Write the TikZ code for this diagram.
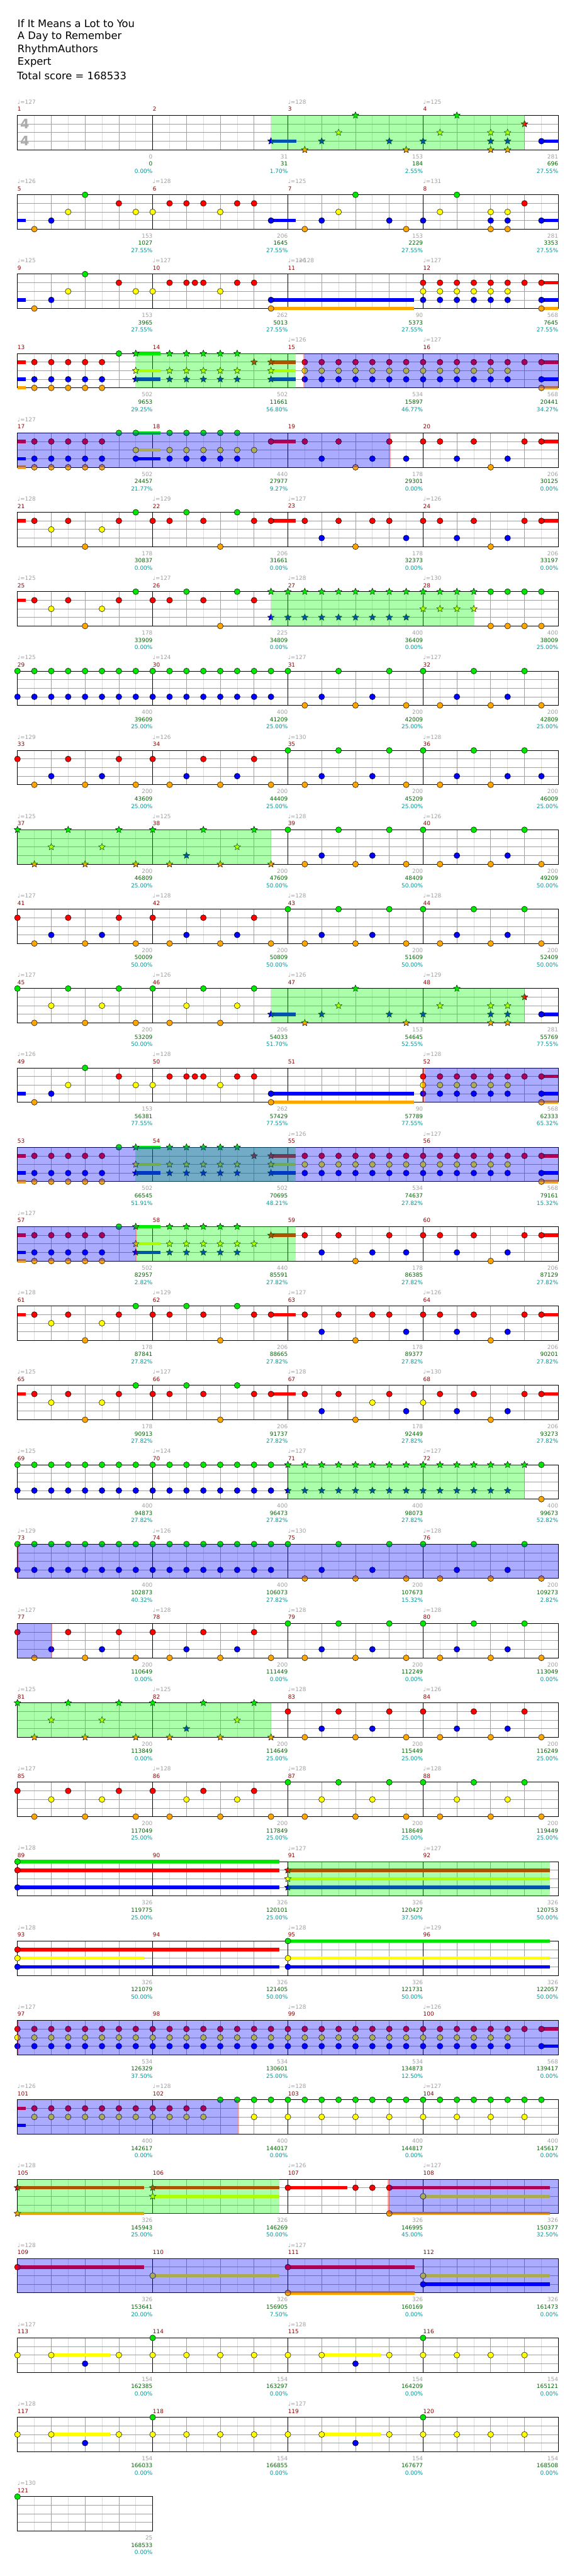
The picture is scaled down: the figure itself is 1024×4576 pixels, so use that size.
\documentclass[tikz,border=0pt]{standalone}
\usepackage{fontspec}
\setmainfont{DejaVu Sans}
\usetikzlibrary{shapes.geometric}
\definecolor{lane0}{RGB}{0,230,0}
\definecolor{lane1}{RGB}{255,0,0}
\definecolor{lane2}{RGB}{255,255,0}
\definecolor{lane3}{RGB}{0,0,255}
\definecolor{lane4}{RGB}{255,165,0}
\definecolor{gridminc}{RGB}{220,220,220}
\definecolor{gridmajc}{RGB}{160,160,160}
\definecolor{mnumred}{RGB}{139,0,0}
\definecolor{labgray}{RGB}{160,160,160}
\definecolor{scoregreen}{RGB}{0,100,0}
\definecolor{pctcyan}{RGB}{0,150,150}

% one row of measures: grid, bar lines, measure numbers
\newcommand{\staff}[2]{%
  \pgfmathtruncatemacro{\nEighths}{8*#2}%
  \foreach \ee in {1,...,\nEighths}{%
    \pgfmathtruncatemacro{\parity}{mod(\ee,2)}%
    \ifnum\parity=1 \draw[gridmin] (\ee,0) -- (\ee,4);\else\draw[gridmaj] (\ee,0) -- (\ee,4);\fi
  }%
  \foreach \lineidx in {1,2,3}{\draw[gridmaj] (0,\lineidx) -- (\nEighths,\lineidx);}%
  \foreach \mm in {1,...,#2}{%
    \draw[barline] (8*\mm,0) -- (8*\mm,4);
    \pgfmathtruncatemacro{\mnumber}{4*#1+\mm}%
    \node[mnum] at (8*\mm-8,-0.72) {\mnumber};
  }%
  \draw[barline] (0,0) rectangle (\nEighths,4);
}
\newcommand{\nt}[2]{\filldraw[fill=lane#2, draw=black, line width=0.4pt] (#1,#2) circle[radius=1.3mm];}
\newcommand{\notes}[2]{\foreach \p in {#2}{\nt{\p}{#1}}}
\newcommand{\stars}[2]{\foreach \p in {#2}{\node[spstar, fill=lane#1] at (\p,#1) {};}}
\newcommand{\sus}[3]{\fill[lane#1] (#2,{#1-0.2}) rectangle (#3,{#1+0.2});}
\newcommand{\spzone}[2]{\fill[green, opacity=0.33] (#1,0) rectangle (#2,4);}
\newcommand{\actzone}[2]{\fill[blue, opacity=0.33] (#1,0) rectangle (#2,4);}
\newcommand{\actwin}[2]{\fill[red, opacity=0.35] (#1,0) rectangle (#2,4);}
\newcommand{\tempo}[2]{\node[tempotxt] at (#1,-1.57) {♩=#2};}
\newcommand{\mscore}[4]{%
  \node[gno] at (8*#1,4.79) {#2};
  \node[sno] at (8*#1,5.64) {#3};
  \node[pno] at (8*#1,6.49) {#4\%};}

\begin{document}
\begin{tikzpicture}[x=0.025cm, y=-0.025cm,
  row/.style={shift={(31,{205+141*#1})}, x=0.75cm, y=-0.38125cm},
  gridmin/.style={draw=gridminc, line width=0.6pt},
  gridmaj/.style={draw=gridmajc, line width=0.6pt},
  barline/.style={draw=black, line width=0.7pt},
  spstar/.style={star, star points=5, star point ratio=2.2, minimum size=3.1mm, inner sep=0pt, draw=black, line width=0.4pt},
  smalltxt/.style={inner sep=0pt, font=\fontsize{7.1}{8}\selectfont},
  mnum/.style={smalltxt, anchor=west, text=mnumred},
  tempotxt/.style={smalltxt, anchor=west, text=labgray},
  gno/.style={smalltxt, anchor=east, text=labgray},
  sno/.style={smalltxt, anchor=east, text=scoregreen},
  pno/.style={smalltxt, anchor=east, text=pctcyan},
  tsig/.style={inner sep=0pt, text=gray!65, font=\bfseries\fontsize{16.5}{17}\selectfont},
  headtxt/.style={anchor=west, inner sep=0pt, font=\fontsize{13}{15}\selectfont}]
  \fill[white] (0,0) rectangle (1024,4576);
  \useasboundingbox (0,0) rectangle (1024,4576);

  % header
  \node[headtxt] (song) at (31,42) {If It Means a Lot to You};
  \node[headtxt] (artist) at (31,65) {A Day to Remember};
  \node[headtxt] (charter) at (31,88) {RhythmAuthors};
  \node[headtxt] (diff) at (31,111) {Expert};
  \node[headtxt] (total) at (30,134) {Total score = 168533};

  % measures 1-4
  \begin{scope}[row=0]
    \staff{0}{4}
    \node[tsig] (tsigtop) at (0.43,0.98) {4};
    \node[tsig] (tsigbot) at (0.43,2.95) {4};
    \sus{3}{15}{16.5} \sus{3}{31}{32}
    \stars{3}{15,18,22,24,28,29}
    \stars{4}{17,23,28,29}
    \stars{2}{19,25,28,29}
    \stars{0}{20,26}
    \stars{1}{30}
    \notes{3}{31}
    \spzone{15}{30}
    \tempo{0}{127} \tempo{16}{128} \tempo{24}{125}
    \mscore{1}{0}{0}{0.00} \mscore{2}{31}{31}{1.70} \mscore{3}{153}{184}{2.55} \mscore{4}{281}{696}{27.55}
  \end{scope}

  % measures 5-8
  \begin{scope}[row=1]
    \staff{1}{4}
    \sus{3}{0}{0.48} \sus{3}{15}{16.46} \sus{3}{31}{32}
    \notes{4}{1,17,23,28,29}
    \notes{3}{2,15,18,22,24,28,29,31}
    \notes{2}{3,7,8,12,19,25,28,29}
    \notes{0}{4,20,26}
    \notes{1}{6,9,10,11,13,14,30}
    \tempo{0}{126} \tempo{8}{128} \tempo{16}{125} \tempo{24}{131}
    \mscore{1}{153}{1027}{27.55} \mscore{2}{206}{1645}{27.55} \mscore{3}{153}{2229}{27.55} \mscore{4}{281}{3353}{27.55}
  \end{scope}

  % measures 9-12
  \begin{scope}[row=2]
    \staff{2}{4}
    \sus{3}{0}{0.48} \sus{3}{15}{23.46} \sus{4}{15}{23.46}
    \sus{1}{31}{32} \sus{3}{31}{32} \sus{4}{31}{32}
    \notes{4}{1,15,31}
    \notes{3}{2,15,24,25,26,27,28,29,31}
    \notes{2}{3,7,8,12,24,25,26,27,28,29}
    \notes{0}{4}
    \notes{1}{6,9,10,10.5,11,13,14,24,25,26,27,28,29,30,31}
    \tempo{0}{125} \tempo{8}{127} \tempo{16}{126} \tempo{16.47}{128} \tempo{24}{127}
    \mscore{1}{153}{3965}{27.55} \mscore{2}{262}{5013}{27.55} \mscore{3}{90}{5373}{27.55} \mscore{4}{568}{7645}{27.55}
  \end{scope}

  % measures 13-16
  \begin{scope}[row=3]
    \staff{3}{4}
    \sus{1}{0}{0.48} \sus{3}{0}{0.48} \sus{4}{0}{0.48}
    \notes{1}{1,2,3,4,5} \notes{3}{1,2,3,4,5} \notes{4}{1,2,3,4,5}
    \notes{0}{6}
    \sus{0}{7}{8.46} \sus{2}{7}{8.46} \sus{3}{7}{8.46}
    \sus{1}{15}{16.46} \sus{2}{15}{16.46} \sus{3}{15}{16.46}
    \stars{0}{7,9,10,11,12,13}
    \stars{2}{7,9,10,11,12,13,15}
    \stars{3}{7,9,10,11,12,13,15}
    \stars{1}{14,15}
    \sus{1}{31}{32} \sus{3}{31}{32} \sus{4}{31}{32}
    \notes{1}{17,...,31} \notes{2}{17,...,29} \notes{3}{17,...,29}
    \notes{3}{31} \notes{4}{31}
    \spzone{7}{16.46} \actzone{17}{32} \actwin{16.93}{17}
    \tempo{16}{126} \tempo{24}{127}
    \mscore{1}{502}{9653}{29.25} \mscore{2}{502}{11661}{56.80} \mscore{3}{534}{15897}{46.77} \mscore{4}{568}{20441}{34.27}
  \end{scope}

  % measures 17-20
  \begin{scope}[row=4]
    \staff{4}{4}
    \sus{1}{0}{0.48} \sus{3}{0}{0.48} \sus{4}{0}{0.48}
    \sus{0}{7}{8.46} \sus{2}{7}{8.46} \sus{3}{7}{8.46}
    \sus{1}{15}{16.46} \sus{1}{31}{32}
    \notes{1}{1,2,3,4,5,15,17,19,22,24,25,27,30,31}
    \notes{3}{1,2,3,4,5,7,9,10,11,12,13,18,21,23,26,29}
    \notes{4}{1,2,3,4,5,20,28}
    \notes{0}{6,7,9,10,11,12,13}
    \notes{2}{7,9,10,11,12,13,14}
    \actzone{0}{22} \actwin{22}{22.07}
    \tempo{0}{127}
    \mscore{1}{502}{24457}{21.77} \mscore{2}{440}{27977}{9.27} \mscore{3}{178}{29301}{0.00} \mscore{4}{206}{30125}{0.00}
  \end{scope}

  % measures 21-24
  \begin{scope}[row=5]
    \staff{5}{4}
    \sus{1}{0}{0.48} \sus{1}{15}{16.46} \sus{1}{31}{32}
    \notes{1}{1,3,6,8,9,11,14,15,17,19,21,22,24,25,27,30,31}
    \notes{2}{2,5} \notes{4}{4,12,20,28} \notes{0}{7,10,13} \notes{3}{18,23,26,29}
    \tempo{0}{128} \tempo{8}{129} \tempo{16}{127} \tempo{24}{126}
    \mscore{1}{178}{30837}{0.00} \mscore{2}{206}{31661}{0.00} \mscore{3}{178}{32373}{0.00} \mscore{4}{206}{33197}{0.00}
  \end{scope}

  % measures 25-28
  \begin{scope}[row=6]
    \staff{6}{4}
    \sus{1}{0}{0.48}
    \notes{1}{1,3,6,8,9,11,14} \notes{2}{2,5} \notes{4}{4,12} \notes{0}{7,10,13}
    \stars{0}{15,...,27} \stars{3}{15,...,23} \stars{2}{24,25,26,27}
    \notes{0}{28,29,30,31} \notes{4}{28,29,30,31}
    \spzone{15}{27}
    \tempo{0}{125} \tempo{8}{127} \tempo{16}{128} \tempo{24}{130}
    \mscore{1}{178}{33909}{0.00} \mscore{2}{225}{34809}{0.00} \mscore{3}{400}{36409}{0.00} \mscore{4}{400}{38009}{25.00}
  \end{scope}

  % measures 29-32
  \begin{scope}[row=7]
    \staff{7}{4}
    \notes{0}{0,...,16} \notes{0}{19,22,24,27,30}
    \notes{3}{0,...,15} \notes{3}{18,21,26,29}
    \notes{4}{17,20,23,25,28,31}
    \tempo{0}{125} \tempo{8}{124} \tempo{16}{127} \tempo{24}{127}
    \mscore{1}{400}{39609}{25.00} \mscore{2}{400}{41209}{25.00} \mscore{3}{200}{42009}{25.00} \mscore{4}{200}{42809}{25.00}
  \end{scope}

  % measures 33-36
  \begin{scope}[row=8]
    \staff{8}{4}
    \notes{1}{0,3,6,8,11,14} \notes{4}{1,4,7,9,12,15,17,20,23,25,28}
    \notes{3}{2,5,10,13,18,21,26,29,31} \notes{0}{16,19,22,24,27,30}
    \tempo{0}{129} \tempo{8}{126} \tempo{16}{130} \tempo{24}{128}
    \mscore{1}{200}{43609}{25.00} \mscore{2}{200}{44409}{25.00} \mscore{3}{200}{45209}{25.00} \mscore{4}{200}{46009}{25.00}
  \end{scope}

  % measures 37-40
  \begin{scope}[row=9]
    \staff{9}{4}
    \stars{0}{0,3,6,8,11,14} \stars{4}{1,4,7,9,12,15} \stars{2}{2,5,13} \stars{3}{10}
    \notes{0}{16,19,22,24,27,30} \notes{4}{17,20,23,25,28,31} \notes{3}{18,21,26,29}
    \spzone{0}{15}
    \tempo{0}{125} \tempo{8}{125} \tempo{16}{128} \tempo{24}{126}
    \mscore{1}{200}{46809}{25.00} \mscore{2}{200}{47609}{50.00} \mscore{3}{200}{48409}{50.00} \mscore{4}{200}{49209}{50.00}
  \end{scope}

  % measures 41-44
  \begin{scope}[row=10]
    \staff{10}{4}
    \notes{1}{0,3,6,8,11,14} \notes{4}{1,4,7,9,12,15,17,20,23,25,28,31}
    \notes{3}{2,5,10,13,18,21,26,29} \notes{0}{16,19,22,24,27,30}
    \tempo{0}{127} \tempo{8}{128} \tempo{16}{128} \tempo{24}{128}
    \mscore{1}{200}{50009}{50.00} \mscore{2}{200}{50809}{50.00} \mscore{3}{200}{51609}{50.00} \mscore{4}{200}{52409}{50.00}
  \end{scope}

  % measures 45-48
  \begin{scope}[row=11]
    \staff{11}{4}
    \notes{0}{0,3,6,8,11,14} \notes{4}{1,4,7,9,12} \notes{2}{2,5,10,13}
    \sus{3}{15}{16.46} \sus{3}{31}{32}
    \stars{3}{15,18,22,24,28,29} \stars{4}{17,23,28,29} \stars{2}{19,25,28,29}
    \stars{0}{20,26} \stars{1}{30}
    \notes{3}{31}
    \spzone{15}{30}
    \tempo{0}{127} \tempo{8}{126} \tempo{16}{126} \tempo{24}{129}
    \mscore{1}{200}{53209}{50.00} \mscore{2}{206}{54033}{51.70} \mscore{3}{153}{54645}{52.55} \mscore{4}{281}{55769}{77.55}
  \end{scope}

  % measures 49-52
  \begin{scope}[row=12]
    \staff{12}{4}
    \sus{3}{0}{0.48} \sus{3}{15}{23.46} \sus{4}{15}{23.46}
    \sus{1}{31}{32} \sus{3}{31}{32} \sus{4}{31}{32}
    \notes{4}{1,15,31}
    \notes{3}{2,15,24,25,26,27,28,29,31}
    \notes{2}{3,7,8,12,24,25,26,27,28,29}
    \notes{0}{4}
    \notes{1}{6,9,10,10.5,11,13,14,24,25,26,27,28,29,30,31}
    \actzone{24.11}{32} \actwin{23.96}{24.11}
    \tempo{0}{126} \tempo{8}{128} \tempo{24}{128}
    \mscore{1}{153}{56381}{77.55} \mscore{2}{262}{57429}{77.55} \mscore{3}{90}{57789}{77.55} \mscore{4}{568}{62333}{65.32}
  \end{scope}

  % measures 53-56
  \begin{scope}[row=13]
    \staff{13}{4}
    \sus{1}{0}{0.48} \sus{3}{0}{0.48} \sus{4}{0}{0.48}
    \notes{1}{1,2,3,4,5} \notes{3}{1,2,3,4,5} \notes{4}{1,2,3,4,5}
    \notes{0}{6}
    \sus{0}{7}{8.46} \sus{2}{7}{8.46} \sus{3}{7}{8.46}
    \sus{1}{15}{16.46} \sus{2}{15}{16.46} \sus{3}{15}{16.46}
    \stars{0}{7,9,10,11,12,13}
    \stars{2}{7,9,10,11,12,13,15}
    \stars{3}{7,9,10,11,12,13,15}
    \stars{1}{14,15}
    \sus{1}{31}{32} \sus{3}{31}{32} \sus{4}{31}{32}
    \notes{1}{17,...,31} \notes{2}{17,...,29} \notes{3}{17,...,29}
    \notes{3}{31} \notes{4}{31}
    \spzone{7}{16.46} \actzone{0}{32}
    \tempo{16}{126} \tempo{24}{127}
    \mscore{1}{502}{66545}{51.91} \mscore{2}{502}{70695}{48.21} \mscore{3}{534}{74637}{27.82} \mscore{4}{568}{79161}{15.32}
  \end{scope}

  % measures 57-60
  \begin{scope}[row=14]
    \staff{14}{4}
    \sus{1}{0}{0.48} \sus{3}{0}{0.48} \sus{4}{0}{0.48}
    \sus{0}{7}{8.46} \sus{2}{7}{8.46} \sus{3}{7}{8.46}
    \sus{1}{15}{16.46} \sus{1}{31}{32}
    \notes{1}{1,2,3,4,5,17,19,22,24,25,27,30,31}
    \notes{3}{1,2,3,4,5,18,21,23,26,29}
    \notes{4}{1,2,3,4,5,20,28}
    \notes{0}{6}
    \stars{0}{7,9,10,11,12,13} \stars{2}{7,9,10,11,12,13,14}
    \stars{3}{7,9,10,11,12,13} \stars{1}{15}
    \actzone{0}{7} \actwin{7}{7.07} \spzone{7.07}{16.46}
    \tempo{0}{127}
    \mscore{1}{502}{82957}{2.82} \mscore{2}{440}{85591}{27.82} \mscore{3}{178}{86385}{27.82} \mscore{4}{206}{87129}{27.82}
  \end{scope}

  % measures 61-64
  \begin{scope}[row=15]
    \staff{15}{4}
    \sus{1}{0}{0.48} \sus{1}{15}{16.46} \sus{1}{31}{32}
    \notes{1}{1,3,6,8,9,11,14,15,17,19,21,22,24,25,27,30,31}
    \notes{2}{2,5} \notes{4}{4,12,20,28} \notes{0}{7,10,13} \notes{3}{18,23,26,29}
    \tempo{0}{128} \tempo{8}{129} \tempo{16}{127} \tempo{24}{126}
    \mscore{1}{178}{87841}{27.82} \mscore{2}{206}{88665}{27.82} \mscore{3}{178}{89377}{27.82} \mscore{4}{206}{90201}{27.82}
  \end{scope}

  % measures 65-68
  \begin{scope}[row=16]
    \staff{16}{4}
    \sus{1}{0}{0.48} \sus{1}{15}{16.46} \sus{1}{31}{32}
    \notes{1}{1,3,6,8,9,11,14,15,17,19,22,25,27,30,31}
    \notes{2}{2,5,21,24} \notes{4}{4,12,20,28} \notes{0}{7,10,13} \notes{3}{18,23,26,29}
    \tempo{0}{125} \tempo{8}{127} \tempo{16}{128} \tempo{24}{130}
    \mscore{1}{178}{90913}{27.82} \mscore{2}{206}{91737}{27.82} \mscore{3}{178}{92449}{27.82} \mscore{4}{206}{93273}{27.82}
  \end{scope}

  % measures 69-72
  \begin{scope}[row=17]
    \staff{17}{4}
    \notes{0}{0,...,15} \notes{3}{0,...,15}
    \stars{0}{16,...,30} \stars{3}{16,...,29}
    \notes{0}{31} \notes{4}{31}
    \spzone{16}{30}
    \tempo{0}{125} \tempo{8}{124} \tempo{16}{127} \tempo{24}{127}
    \mscore{1}{400}{94873}{27.82} \mscore{2}{400}{96473}{27.82} \mscore{3}{400}{98073}{27.82} \mscore{4}{400}{99673}{52.82}
  \end{scope}

  % measures 73-76
  \begin{scope}[row=18]
    \staff{18}{4}
    \notes{0}{0,...,16} \notes{0}{19,22,24,27,30}
    \notes{3}{0,...,15} \notes{3}{18,21,26,29}
    \notes{4}{17,20,23,25,28,31}
    \actzone{0}{32} \actwin{0}{0.07}
    \tempo{0}{129} \tempo{8}{126} \tempo{16}{130} \tempo{24}{128}
    \mscore{1}{400}{102873}{40.32} \mscore{2}{400}{106073}{27.82} \mscore{3}{200}{107673}{15.32} \mscore{4}{200}{109273}{2.82}
  \end{scope}

  % measures 77-80
  \begin{scope}[row=19]
    \staff{19}{4}
    \notes{1}{0,3,6,8,11,14} \notes{4}{1,4,7,9,12,15,17,20,23,25,28,31}
    \notes{3}{2,5,10,13,18,21,26,29} \notes{0}{16,19,22,24,27,30}
    \actzone{0}{2} \actwin{2}{2.07}
    \tempo{0}{127} \tempo{8}{128} \tempo{16}{128} \tempo{24}{128}
    \mscore{1}{200}{110649}{0.00} \mscore{2}{200}{111449}{0.00} \mscore{3}{200}{112249}{0.00} \mscore{4}{200}{113049}{0.00}
  \end{scope}

  % measures 81-84
  \begin{scope}[row=20]
    \staff{20}{4}
    \stars{0}{0,3,6,8,11,14} \stars{4}{1,4,7,9,12,15} \stars{2}{2,5,13} \stars{3}{10}
    \notes{1}{16,19,22,24,27,30} \notes{4}{17,20,23,25,28,31} \notes{3}{18,21,26,29}
    \spzone{0}{15}
    \tempo{0}{125} \tempo{8}{125} \tempo{16}{128} \tempo{24}{126}
    \mscore{1}{200}{113849}{0.00} \mscore{2}{200}{114649}{25.00} \mscore{3}{200}{115449}{25.00} \mscore{4}{200}{116249}{25.00}
  \end{scope}

  % measures 85-88
  \begin{scope}[row=21]
    \staff{21}{4}
    \notes{1}{0,3,6,8,11,14} \notes{4}{1,4,7,9,12,15,17,20,23,25,28,31}
    \notes{2}{2,5,10,13,18,21,26,29} \notes{0}{16,19,22,24,27,30}
    \tempo{0}{127} \tempo{8}{128} \tempo{16}{128} \tempo{24}{128}
    \mscore{1}{200}{117049}{25.00} \mscore{2}{200}{117849}{25.00} \mscore{3}{200}{118649}{25.00} \mscore{4}{200}{119449}{25.00}
  \end{scope}

  % measures 89-92
  \begin{scope}[row=22]
    \staff{22}{4}
    \sus{0}{0}{15.5} \sus{1}{0}{15.5} \sus{3}{0}{15.5}
    \notes{0}{0} \notes{1}{0} \notes{3}{0}
    \sus{1}{16}{31.5} \sus{2}{16}{31.5} \sus{3}{16}{31.5}
    \stars{1}{16} \stars{2}{16} \stars{3}{16}
    \spzone{16}{31.5}
    \tempo{0}{128} \tempo{16}{127} \tempo{24}{127}
    \mscore{1}{326}{119775}{25.00} \mscore{2}{326}{120101}{25.00} \mscore{3}{326}{120427}{37.50} \mscore{4}{326}{120753}{50.00}
  \end{scope}

  % measures 93-96
  \begin{scope}[row=23]
    \staff{23}{4}
    \sus{1}{0}{15.5} \sus{3}{0}{15.5} \sus{2}{0}{7.5}
    \notes{1}{0} \notes{3}{0} \notes{2}{0}
    \sus{0}{16}{31.5} \sus{2}{16}{31.5} \sus{3}{16}{31.5}
    \notes{0}{16} \notes{2}{16} \notes{3}{16}
    \tempo{0}{128} \tempo{16}{128} \tempo{24}{129}
    \mscore{1}{326}{121079}{50.00} \mscore{2}{326}{121405}{50.00} \mscore{3}{326}{121731}{50.00} \mscore{4}{326}{122057}{50.00}
  \end{scope}

  % measures 97-100
  \begin{scope}[row=24]
    \staff{24}{4}
    \sus{1}{31}{32} \sus{3}{31}{32}
    \notes{1}{0,...,31} \notes{2}{0,...,29} \notes{3}{0,...,29} \notes{3}{31}
    \actzone{0}{32} \actwin{0}{0.07}
    \tempo{0}{127} \tempo{16}{128} \tempo{24}{126}
    \mscore{1}{534}{126329}{37.50} \mscore{2}{534}{130601}{25.00} \mscore{3}{534}{134873}{12.50} \mscore{4}{568}{139417}{0.00}
  \end{scope}

  % measures 101-104
  \begin{scope}[row=25]
    \staff{25}{4}
    \sus{1}{0}{0.48} \sus{3}{0}{0.48}
    \notes{1}{1,...,11} \notes{2}{1,...,11}
    \notes{0}{12,...,31} \notes{2}{14,16,18,20,22,24,26,28,30}
    \actzone{0}{13} \actwin{13}{13.1}
    \tempo{0}{126} \tempo{8}{128} \tempo{16}{128} \tempo{24}{127}
    \mscore{1}{400}{142617}{0.00} \mscore{2}{400}{144017}{0.00} \mscore{3}{400}{144817}{0.00} \mscore{4}{400}{145617}{0.00}
  \end{scope}

  % measures 105-108
  \begin{scope}[row=26]
    \staff{26}{4}
    \sus{1}{0}{7.5} \sus{4}{0}{7.5} \sus{1}{8}{15.5} \sus{2}{8}{15.5}
    \stars{1}{0,8} \stars{4}{0} \stars{2}{8}
    \sus{1}{16}{19.5} \notes{1}{16,20,21}
    \sus{1}{22}{31.5} \sus{2}{24}{31.5} \sus{4}{22}{31.5}
    \notes{1}{22} \notes{4}{22} \notes{2}{24}
    \spzone{0}{15.5} \actzone{22}{32} \actwin{21.9}{22}
    \tempo{0}{128} \tempo{16}{126} \tempo{24}{127}
    \mscore{1}{326}{145943}{25.00} \mscore{2}{326}{146269}{50.00} \mscore{3}{326}{146995}{45.00} \mscore{4}{326}{150377}{32.50}
  \end{scope}

  % measures 109-112
  \begin{scope}[row=27]
    \staff{27}{4}
    \sus{1}{0}{7.5} \sus{2}{8}{15.5} \sus{1}{16}{23.5} \sus{4}{16}{23.5} \sus{2}{24}{31.5} \sus{3}{24}{31.5}
    \notes{1}{0,16} \notes{2}{8,24} \notes{4}{16} \notes{3}{24}
    \actzone{0}{32}
    \tempo{0}{128} \tempo{16}{127}
    \mscore{1}{326}{153641}{20.00} \mscore{2}{326}{156905}{7.50} \mscore{3}{326}{160169}{0.00} \mscore{4}{326}{161473}{0.00}
  \end{scope}

  % measures 113-116
  \begin{scope}[row=28]
    \staff{28}{4}
    \sus{2}{2}{5.5} \sus{2}{18}{21.5}
    \notes{2}{0,2,6,8,10,12,14,16,18,22,24,26,28,30}
    \notes{0}{8,24} \notes{3}{4,20}
    \tempo{0}{127} \tempo{16}{128}
    \mscore{1}{154}{162385}{0.00} \mscore{2}{154}{163297}{0.00} \mscore{3}{154}{164209}{0.00} \mscore{4}{154}{165121}{0.00}
  \end{scope}

  % measures 117-120
  \begin{scope}[row=29]
    \staff{29}{4}
    \sus{2}{2}{5.5} \sus{2}{18}{21.5}
    \notes{2}{0,2,6,8,10,12,14,16,18,22,24,26,28,30}
    \notes{0}{8,24} \notes{3}{4,20}
    \tempo{0}{128} \tempo{16}{127}
    \mscore{1}{154}{166033}{0.00} \mscore{2}{154}{166855}{0.00} \mscore{3}{154}{167677}{0.00} \mscore{4}{154}{168508}{0.00}
  \end{scope}

  % measure 121
  \begin{scope}[row=30]
    \staff{30}{1}
    \notes{0}{0}
    \tempo{0}{130}
    \mscore{1}{25}{168533}{0.00}
  \end{scope}
\end{tikzpicture}
\end{document}
